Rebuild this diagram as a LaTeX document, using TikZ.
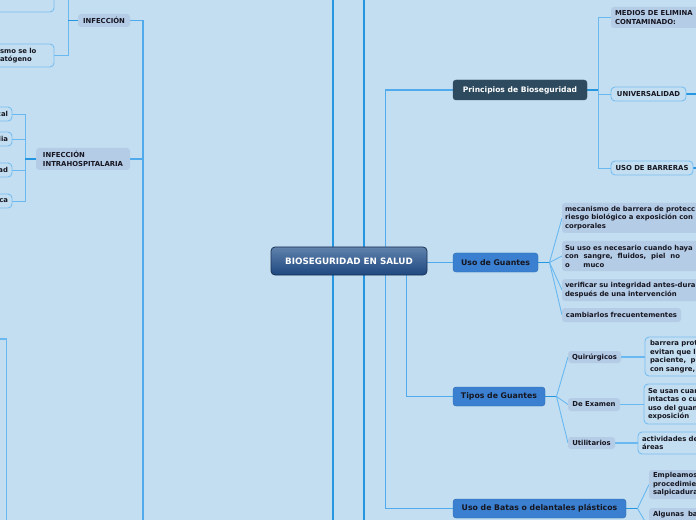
\documentclass[tikz,border=0pt]{standalone}
\usepackage{fontspec}
\setmainfont{DejaVu Sans}
\usetikzlibrary{shadings}
\pgfdeclarelayer{bglayer}
\pgfsetlayers{bglayer,main}
\newcommand\mkwat[2]{\leavevmode\rlap{\hspace*{#1}#2}}
\definecolor{bgc}{RGB}{195,222,240}
\definecolor{leaff}{RGB}{181,204,231}
\definecolor{bordc}{RGB}{120,190,242}
\definecolor{topicf}{RGB}{58,127,208}
\definecolor{princf}{RGB}{46,74,95}
\definecolor{mainl}{RGB}{38,150,224}
\definecolor{midl}{RGB}{80,170,236}
\definecolor{thinl}{RGB}{105,184,240}
\definecolor{txt}{RGB}{22,22,32}
\definecolor{ctop}{RGB}{96,130,172}
\definecolor{cbot}{RGB}{30,72,128}
\definecolor{cbord}{RGB}{26,48,84}
\begin{document}
\begin{tikzpicture}[x=1bp,y=-1bp,
  nbase/.style={inner xsep=4bp, inner ysep=0bp, outer sep=0pt, anchor=west,
    font=\fontsize{6.9}{8.5}\selectfont\bfseries, text=txt, align=left},
  leafbox/.style={nbase, fill=leaff, rounded corners=3bp},
  bordbox/.style={nbase, draw=bordc, line width=0.9bp, fill=bgc, rounded corners=4bp},
  topicbox/.style={nbase, fill=topicf, draw=topicf!85!black, line width=0.4bp,
    rounded corners=3bp, font=\fontsize{7.8}{9}\selectfont\bfseries},
  princbox/.style={topicbox, fill=princf, draw=princf, text=white,
    font=\fontsize{7.6}{9}\selectfont\bfseries},
  centerbox/.style={nbase, top color=ctop, bottom color=cbot, draw=cbord, line width=0.8bp,
    rounded corners=4bp, text=white, font=\fontsize{8.8}{10}\selectfont\bfseries},
  lmain/.style={draw=mainl, line width=1.8bp},
  lmid/.style={draw=midl, line width=1.3bp},
  lseg/.style={draw=mainl, line width=1.6bp},
  lthin/.style={draw=thinl, line width=0.9bp}
]
\useasboundingbox (0,0) rectangle (696,520);
\clip (0,0) rectangle (696,520);

% ---------- left side ----------
\node[bordbox, minimum width=114bp, minimum height=32bp] (ltop) at (-60,-4) {};
\node[bordbox, text width=50bp, minimum height=23bp] (lorg) at (-4,55.5) {smo se lo\\atógeno};
\node[leafbox, minimum width=52bp, minimum height=13bp] (inf) at (78,20.5) {INFECCIÓN};
\node[leafbox, minimum width=94bp, minimum height=22bp] (intra) at (36,159) {INFECCIÓN\\INTRAHOSPITALARIA};
\node[bordbox, align=right, text width=24bp, minimum height=14bp] (s1) at (-20,114) {cal};
\node[bordbox, align=right, text width=24bp, minimum height=14bp] (s2) at (-20,139) {lia};
\node[bordbox, align=right, text width=24bp, minimum height=14bp] (s3) at (-20,170) {ad};
\node[bordbox, align=right, text width=24bp, minimum height=14bp] (s4) at (-20,201) {ca};

% ---------- centre ----------
\node[centerbox, minimum width=156bp, minimum height=28bp, align=center] (root) at (271,261) {BIOSEGURIDAD EN SALUD};

% ---------- topics ----------
\node[princbox, minimum width=134bp, minimum height=20bp] (princ) at (453,90) {Principios de Bioseguridad};
\node[topicbox, minimum width=85bp, minimum height=19bp] (guant) at (453,262.5) {Uso de Guantes};
\node[topicbox, minimum width=92bp, minimum height=19bp] (tipos) at (453,396.5) {Tipos de Guantes};
\node[topicbox, minimum width=173bp, minimum height=19bp] (batas) at (453,508.5) {Uso de Batas o delantales plásticos};

% ---------- principios children ----------
\node[leafbox, text width=150bp, minimum height=21bp] (medios) at (611,17.5) {MEDIOS DE ELIMINA\\CONTAMINADO:};
\node[bordbox, minimum width=75bp, minimum height=14bp] (univ) at (611,94) {UNIVERSALIDAD};
\node[bordbox, minimum width=82bp, minimum height=14bp] (usob) at (611,168) {USO DE BARRERAS};

% ---------- guantes children ----------
\node[leafbox, inner xsep=3bp, text width=150bp, minimum height=30bp] (g1) at (562,218)
  {mecanismo de barrera de protecc\\riesgo biológico a exposición con\\corporales};
\node[leafbox, inner xsep=3bp, text width=150bp, minimum height=30bp] (g2) at (562,256)
  {Su uso es necesario cuando haya\\\leavevmode\hbox to 115bp{con\hfill sangre,\hfill fluidos,\hfill piel\hfill no}\\\mkwat{0bp}{o}\mkwat{18.4bp}{muco}};
\node[leafbox, inner xsep=3bp, text width=150bp, minimum height=22bp] (g3) at (562,290)
  {verificar su integridad antes-dura\\después de una intervención};
\node[leafbox, inner xsep=3bp, minimum width=119bp, minimum height=14bp] (g4) at (562,315)
  {cambiarlos frecuentementes};

% ---------- tipos children ----------
\node[leafbox, minimum width=53bp, minimum height=12bp] (quir) at (568,357) {Quirúrgicos};
\node[leafbox, minimum width=52bp, minimum height=13bp] (exam) at (568,404.5) {De Examen};
\node[leafbox, minimum width=47bp, minimum height=12bp] (util) at (568,443) {Utilitarios};
\node[bordbox, inner xsep=5bp, text width=150bp, minimum height=39bp] (qd) at (645,356.5)
  {barrera prot\\evitan que l\\\mkwat{0bp}{paciente,}\mkwat{40.7bp}{p}\\con sangre,};
\node[bordbox, text width=150bp, minimum height=40bp] (ed) at (644,404)
  {Se usan cuan\\intactas o cu\\uso del guan\\exposición};
\node[bordbox, text width=150bp, minimum height=22bp] (ud) at (638,443)
  {actividades de\\áreas};

% ---------- batas children ----------
\node[leafbox, text width=150bp, minimum height=29bp] (b1) at (649,484.5)
  {Empleamos\\procedimie\\salpicadura};
\node[leafbox, text width=150bp, anchor=north west, inner ysep=3bp, text depth=14bp] (b2) at (649,508)
  {\mkwat{0bp}{Algunas}\mkwat{35bp}{ba}};

% ---------- connectors ----------
\begin{pgfonlayer}{bglayer}
\fill[bgc] (-10,-10) rectangle (706,530);
% long verticals through the centre
\coordinate (va1) at (333.3,-10); \coordinate (va2) at (333.3,530);
\coordinate (vb1) at (364.3,-10); \coordinate (vb2) at (364.3,530);
\draw[lmain] (va1) -- (va2);
\draw[lmain] (vb1) -- (vb2);
% centre to topics
\coordinate (j385) at (385.5,0);
\coordinate (j406) at (406.7,0);
\draw[lmid] (princ.west) -| (j385 |- batas.west) -- (batas.west);
\draw[lmid] (root.east |- guant.west) -- (guant.west);
\draw[lmid] (j406 |- root.south) |- (tipos.west);
% principios children
\coordinate (jp) at (598,0);
\coordinate (redge) at (705,0);
\draw[lseg] (princ.east) -- (princ.east -| jp);
\draw[lthin] (jp |- medios.west) -- (jp |- usob.west);
\draw[lthin] (jp |- medios.west) -- (medios.west);
\draw[lthin] (jp |- univ.west) -- (univ.west);
\draw[lthin] (jp |- usob.west) -- (usob.west);
\draw[lseg] (univ.east) -- (univ.east -| redge);
\draw[lseg] (usob.east) -- (usob.east -| redge);
% guantes fan
\coordinate (jg) at (549.5,262.5);
\draw[lseg] (guant.east) -- (jg);
\foreach \c in {g1,g2,g3,g4} \draw[lthin] (jg) -- (\c.west);
% tipos fan
\coordinate (jt) at (556.5,396.5);
\draw[lseg] (tipos.east) -- (jt);
\foreach \c in {quir,exam,util} \draw[lthin] (jt) -- (\c.west);
\draw[lthin, line width=1.2bp] (quir.east) -- (quir.east -| qd.west);
\draw[lthin, line width=1.2bp] (exam.east) -- (exam.east -| ed.west);
\draw[lthin, line width=1.2bp] (util.east) -- (util.east -| ud.west);
% batas fan
\coordinate (jb) at (637.5,508.5);
\coordinate (b2in) at (650,530);
\draw[lseg] (batas.east) -- (jb);
\draw[lthin] (jb) -- (b1.west);
\draw[lthin] (jb) -- (b2in);
% left side
\coordinate (j143) at (143,0);
\coordinate (lb143) at (143,530);
\draw[lmid] (inf.east) -| (lb143);
\draw[lmid] (intra.east) -- (intra.east -| j143);
\coordinate (t68) at (68,-10);
\draw[lthin] (t68) |- (lorg.east);
\draw[lseg] (t68 |- inf.west) -- (inf.west);
\coordinate (j25) at (25,0);
\draw[lthin] (s1.east) -| (j25 |- s4.east) -- (s4.east);
\draw[lthin] (s2.east) -- (s2.east -| j25);
\draw[lthin] (s3.east) -- (s3.east -| j25);
\draw[lseg] (j25 |- intra.west) -- (intra.west);
\coordinate (bl0) at (-5,339);
\coordinate (bl1) at (6.3,530);
\draw[lthin, line width=1.2bp] (bl0) -| (bl1);
\end{pgfonlayer}
\end{tikzpicture}
\end{document}
